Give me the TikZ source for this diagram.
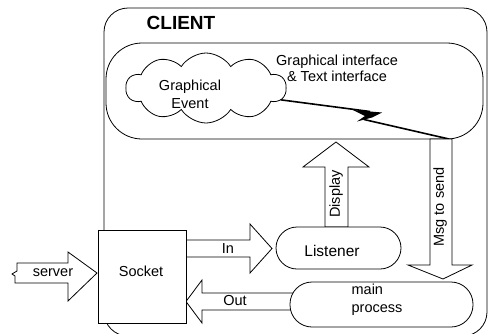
\documentclass[tikz,border=0pt]{standalone}
\usepackage{fontspec}
\setmainfont{Liberation Sans}
\usetikzlibrary{shapes.symbols}
\begin{document}
\begin{tikzpicture}[x=1pt,y=-1pt,line width=0.8pt,
  every node/.style={inner sep=0pt,outer sep=0pt},
  lbl/.style={font=\fontsize{14.5}{17}\selectfont},
  box/.style={draw,fill=white},
  blockarrow/.style={draw,fill=white,line join=miter},
  bolt/.style={line width=1.6pt}]
\useasboundingbox (0,0) rectangle (488,333);

% client frame and interface panel
\node[draw,rounded corners=24,minimum width=383pt,minimum height=328pt] (client) at (295.5,172) {};
\node[draw,rounded corners=36,minimum width=377pt,minimum height=96pt] (gui) at (294.5,91) {};
\node[font=\bfseries\fontsize{19}{22}\selectfont] (clientlbl) at (181,23) {CLIENT};
\node[lbl,align=center] (guilbl) at (337,68) {Graphical interface\\[-1pt]\& Text interface};

% graphical event cloud
\node[draw,cloud,cloud puffs=10,cloud puff arc=115,aspect=2.3,
      minimum width=160pt,minimum height=70pt] (cloud) at (206,88) {};
\node[lbl,align=center] (evtlbl) at (190,94) {Graphical\\[1pt]Event};

% lightning link from the event to the outgoing message
\coordinate (msgtop) at (449,139);
\coordinate (boltin) at (370,111.5);
\coordinate (boltout) at (364,119.5);
\draw[bolt] (cloud.-9) -- (boltin);
\fill (353,110) -- (382,112.5) -- (372,117.5) -- (357,121.5) -- (365,116) -- cycle;
\draw[bolt] (boltout) -- (msgtop);

% block arrows
\draw[blockarrow] (17,263) -- (68,263) -- (68,252) -- (97,273) -- (68,301) -- (68,283)
  -- (15,283) -- (15,276) -- (12,274) -- (17,271) -- cycle;
\node[lbl] (serverlbl) at (53,273) {server};

\draw[blockarrow] (186,240) -- (250,240) -- (250,224) -- (272,248.5) -- (250,273)
  -- (250,257) -- (186,257) -- cycle;
\node[lbl] (inlbl) at (228,249) {In};

\draw[blockarrow] (300,293) -- (202,293) -- (202,280) -- (186,301.5) -- (202,323)
  -- (202,310) -- (300,310) -- cycle;
\node[lbl] (outlbl) at (235,301) {Out};

\draw[blockarrow] (325,227) -- (325,167) -- (303,167) -- (336,142) -- (369,167)
  -- (348,167) -- (348,227) -- cycle;
\node[lbl,rotate=90] (displbl) at (336,194) {Display};

\draw[blockarrow] (430,139) -- (430,265) -- (408,265) -- (443,279) -- (472,265)
  -- (452,265) -- (452,139) -- cycle;
\node[lbl,rotate=90] (msglbl) at (440,207) {Msg to send};

% components
\node[box,minimum width=88pt,minimum height=93pt] (socket) at (142,276.5) {};
\node[lbl] (socketlbl) at (141,271) {Socket};
\node[box,rounded corners=21,minimum width=125pt,minimum height=42pt] (listener) at (338.5,248) {};
\node[lbl,font=\fontsize{15.5}{18}\selectfont] (listenerlbl) at (332,251) {Listener};
\node[box,rounded corners=22,minimum width=183pt,minimum height=45pt] (main) at (381.5,304.5) {};
\node[lbl,align=left] (mainlbl) at (377,300) {main\\[1pt]process};
\end{tikzpicture}
\end{document}
